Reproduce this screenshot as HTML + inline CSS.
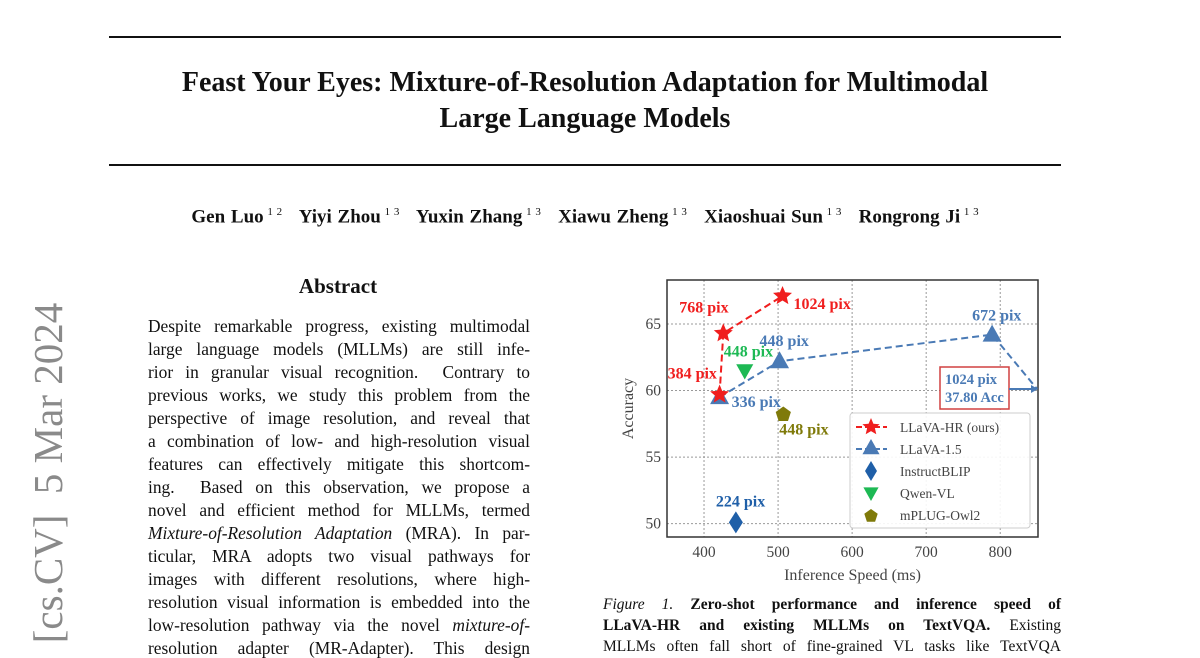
<!DOCTYPE html>
<html><head><meta charset="utf-8"><style>
body{margin:0;width:1200px;height:648px;overflow:hidden;background:#fff;font-family:"Liberation Serif",serif;color:#111;position:relative}
.abs{position:absolute}
.rule{position:absolute;left:109px;width:952px;height:2px;background:#111}
.title{left:100px;width:970px;text-align:center;font-weight:bold;font-size:28px;line-height:36px}
.line{position:absolute;left:148px;width:382px;font-size:17.4px;text-align:justify;text-align-last:justify;white-space:nowrap;line-height:20px}
.cap{position:absolute;left:603px;width:458px;font-size:15.5px;text-align:justify;text-align-last:justify;white-space:nowrap}
</style></head><body>
<div class="rule" style="top:36px"></div>
<div class="abs title" style="top:65px">Feast Your Eyes: Mixture-of-Resolution Adaptation for Multimodal<br>Large Language Models</div>
<div class="rule" style="top:164px"></div>
<div class="abs" style="left:100px;width:970px;top:206px;text-align:center;font-weight:bold;font-size:19px;word-spacing:1px">Gen Luo<sup style="font-weight:normal;font-size:11px"> 1 2</sup>&nbsp;&nbsp; Yiyi Zhou<sup style="font-weight:normal;font-size:11px"> 1 3</sup>&nbsp;&nbsp; Yuxin Zhang<sup style="font-weight:normal;font-size:11px"> 1 3</sup>&nbsp;&nbsp; Xiawu Zheng<sup style="font-weight:normal;font-size:11px"> 1 3</sup>&nbsp;&nbsp; Xiaoshuai Sun<sup style="font-weight:normal;font-size:11px"> 1 3</sup>&nbsp;&nbsp; Rongrong Ji<sup style="font-weight:normal;font-size:11px"> 1 3</sup></div>
<div class="abs" style="left:48px;top:473px;transform:translate(-50%,-50%) rotate(-90deg);font-size:41px;color:#8a8a8a;white-space:nowrap">[cs.CV]&nbsp; 5 Mar 2024</div>
<div class="abs" style="left:238px;width:200px;text-align:center;top:274px;font-weight:bold;font-size:21px">Abstract</div>
<div>
<div class="line" style="top:316px">Despite remarkable progress, existing multimodal</div>
<div class="line" style="top:339px">large language models (MLLMs) are still infe-</div>
<div class="line" style="top:362px">rior in granular visual recognition. &nbsp;Contrary to</div>
<div class="line" style="top:385px">previous works, we study this problem from the</div>
<div class="line" style="top:408px">perspective of image resolution, and reveal that</div>
<div class="line" style="top:431px">a combination of low- and high-resolution visual</div>
<div class="line" style="top:454px">features can effectively mitigate this shortcom-</div>
<div class="line" style="top:477px">ing. &nbsp;Based on this observation, we propose a</div>
<div class="line" style="top:500px">novel and efficient method for MLLMs, termed</div>
<div class="line" style="top:523px"><i>Mixture-of-Resolution Adaptation</i> (MRA). In par-</div>
<div class="line" style="top:546px">ticular, MRA adopts two visual pathways for</div>
<div class="line" style="top:569px">images with different resolutions, where high-</div>
<div class="line" style="top:592px">resolution visual information is embedded into the</div>
<div class="line" style="top:615px">low-resolution pathway via the novel <i>mixture-of-</i></div>
<div class="line" style="top:638px">resolution adapter (MR-Adapter). This design</div>
</div>
<div class="cap" style="top:596px"><i>Figure 1.</i> <b>Zero-shot performance and inference speed of</b></div>
<div class="cap" style="top:617px"><b>LLaVA-HR and existing MLLMs on TextVQA.</b> Existing</div>
<div class="cap" style="top:638px">MLLMs often fall short of fine-grained VL tasks like TextVQA</div>

<svg id="chart" class="abs" style="left:0;top:0" width="1200" height="648" font-family="Liberation Serif, serif"></svg>
<script>
const xTicks=[400,500,600,700,800];
const yTicks=[50,55,60,65];
const hrX=[421,426,506], hrY=[59.7,64.3,67.1], hrLabels=["384 pix","768 pix","1024 pix"];
const l15X=[421,502,789], l15Y=[59.5,62.2,64.2], l15Labels=["336 pix","448 pix","672 pix"];
const l15Tail=[850,60.1];
const blipX=[443], blipY=[50.1];
const qwenX=[455], qwenY=[61.5];
const owlX=[507], owlY=[58.2];
const L=667,R=1038,T=280,B=537,x0=350,x1=851,y0=49,y1=68.3;
const sx=v=>L+(v-x0)/(x1-x0)*(R-L), sy=v=>B-(v-y0)/(y1-y0)*(B-T);
const svg=document.getElementById('chart');const NS='http://www.w3.org/2000/svg';
function mk(tag,at,txt){const e=document.createElementNS(NS,tag);for(const k in at)e.setAttribute(k,at[k]);if(txt!=null)e.textContent=txt;svg.appendChild(e);return e;}
xTicks.forEach(t=>{const g=mk('line',{x1:sx(t),x2:sx(t),y1:T,y2:B,stroke:'#999','stroke-dasharray':'2,2','stroke-width':1});
const l=mk('text',{x:sx(t),y:B+20,'text-anchor':'middle','font-size':15.5,fill:'#444'},t);});
yTicks.forEach(t=>{const g=mk('line',{x1:L,x2:R,y1:sy(t),y2:sy(t),stroke:'#999','stroke-dasharray':'2,2','stroke-width':1});
const l=mk('text',{x:L-6,y:sy(t)+5,'text-anchor':'end','font-size':15.5,fill:'#444'},t);});
const fr=mk('rect',{x:L,y:T,width:R-L,height:B-T,fill:'none',stroke:'#333','stroke-width':1.5});
const xt=mk('text',{x:(L+R)/2,y:B+43,'text-anchor':'middle','font-size':16,fill:'#444'},'Inference Speed (ms)');
const yt=mk('text',{x:0,y:0,'text-anchor':'middle','font-size':16,fill:'#444',transform:`translate(633,${(T+B)/2}) rotate(-90)`},'Accuracy');
function star(cx,cy,r,c){let p=[];for(let i=0;i<10;i++){const a=-Math.PI/2+i*Math.PI/5,rr=i%2?r*0.45:r;p.push((cx+rr*Math.cos(a)).toFixed(1)+','+(cy+rr*Math.sin(a)).toFixed(1));}return mk('polygon',{points:p.join(' '),fill:c});}
function tri(cx,cy,r,c,down){const s=down?-1:1;return mk('polygon',{points:`${cx},${cy-s*r} ${cx-r*0.95},${cy+s*r*0.7} ${cx+r*0.95},${cy+s*r*0.7}`,fill:c});}
const b='#4a7ab5';
let pts=l15X.map((v,i)=>sx(v)+','+sy(l15Y[i])).concat([sx(l15Tail[0])+','+sy(l15Tail[1])]);
const pl=mk('polyline',{points:pts.join(' '),fill:'none',stroke:b,'stroke-width':2,'stroke-dasharray':'7,4'});
l15X.forEach((v,i)=>{const m=tri(sx(v),sy(l15Y[i]),10,b);});
const lo=[[12,10],[-20,-15],[-20,-14]];
l15X.forEach((v,i)=>{const t=mk('text',{x:sx(v)+lo[i][0],y:sy(l15Y[i])+lo[i][1],'font-size':16,'font-weight':'bold',fill:b},l15Labels[i]);});
const r='#f01e1e';
const hl=mk('polyline',{points:hrX.map((v,i)=>sx(v)+','+sy(hrY[i])).join(' '),fill:'none',stroke:r,'stroke-width':2,'stroke-dasharray':'7,4'});
hrX.forEach((v,i)=>{const m=star(sx(v),sy(hrY[i]),10,r);});
const ho=[[-52,-16],[-44,-21],[11,13]];
hrX.forEach((v,i)=>{const t=mk('text',{x:sx(v)+ho[i][0],y:sy(hrY[i])+ho[i][1],'font-size':16,'font-weight':'bold',fill:r},hrLabels[i]);});
const dc='#1f5fa8';
blipX.forEach((v,i)=>{const cx=sx(v),cy=sy(blipY[i]);const m=mk('polygon',{points:`${cx},${cy-11} ${cx+7},${cy} ${cx},${cy+11} ${cx-7},${cy}`,fill:dc});
const t=mk('text',{x:cx-20,y:cy-16,'font-size':16,'font-weight':'bold',fill:dc},'224 pix');});
const g='#1db954';
qwenX.forEach((v,i)=>{const m=tri(sx(v),sy(qwenY[i]),9,g,true);
const t=mk('text',{x:sx(v)-21,y:sy(qwenY[i])-14,'font-size':16,'font-weight':'bold',fill:g},'448 pix');});
const o='#7f7a0a';
function pent(cx,cy,rr,c){let p=[];for(let i=0;i<5;i++){const a=-Math.PI/2+i*2*Math.PI/5;p.push((cx+rr*Math.cos(a)).toFixed(1)+','+(cy+rr*Math.sin(a)).toFixed(1));}return mk('polygon',{points:p.join(' '),fill:c});}
owlX.forEach((v,i)=>{const m=pent(sx(v),sy(owlY[i]),8,o);
const t=mk('text',{x:sx(v)-4,y:sy(owlY[i])+20,'font-size':16,'font-weight':'bold',fill:o},'448 pix');});
const ab=mk('rect',{x:940,y:367,width:69,height:42,fill:'#fff',stroke:'#d04040','stroke-width':1.5});
const a1=mk('text',{x:945,y:384,'font-size':14.5,'font-weight':'bold',fill:b},'1024 pix');
mk('text',{x:945,y:402,'font-size':14.5,'font-weight':'bold',fill:b},'37.80 Acc');
mk('line',{x1:1009,x2:1035,y1:389,y2:389,stroke:b,'stroke-width':2});
mk('polygon',{points:'1038,389 1031,385 1031,393',fill:b});
const lg=mk('rect',{x:850,y:413,width:180,height:115,rx:3,fill:'#fff','fill-opacity':0.9,stroke:'#ccc'});
const legNames=['LLaVA-HR (ours)','LLaVA-1.5','InstructBLIP','Qwen-VL','mPLUG-Owl2'];
legNames.forEach((n,i)=>{const y=427+i*22;
if(i==0){mk('line',{x1:856,x2:887,y1:y,y2:y,stroke:r,'stroke-width':2,'stroke-dasharray':'6,3'});star(871,y,9,r);}
if(i==1){mk('line',{x1:856,x2:887,y1:y,y2:y,stroke:b,'stroke-width':2,'stroke-dasharray':'6,3'});tri(871,y-1,9,b);}
if(i==2)mk('polygon',{points:`871,${y-10} 877,${y} 871,${y+10} 865,${y}`,fill:dc});
if(i==3)tri(871,y,8,g,true);
if(i==4)pent(871,y+1,7,o);
const t=mk('text',{x:900,y:y+5,'font-size':13.5,fill:'#444'},n);});
</script>
</body></html>
